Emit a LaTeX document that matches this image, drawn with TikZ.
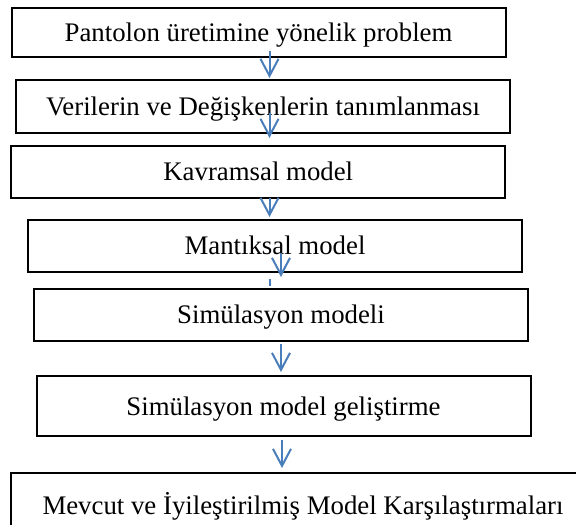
\documentclass[tikz,border=0pt]{standalone}
\usepackage{fontspec}
\setmainfont{Liberation Serif}
\usetikzlibrary{arrows.meta}
\definecolor{arrblue}{RGB}{74,126,187}
\begin{document}
\begin{tikzpicture}[x=1pt,y=-1pt,
  box/.style={draw=black, line width=2pt, rectangle, inner sep=0pt,
    minimum width=494pt, font=\fontsize{26.8}{32}\selectfont,
    text height=20pt, text depth=2pt},
  arr/.style={draw=arrblue, line width=2pt,
    -{Straight Barb[length=17pt,width=18pt]}},
  stub/.style={draw=arrblue, line width=2pt}]
\path[use as bounding box, clip] (0,0) rectangle (576,525);
\node[box, minimum height=49.5pt] (b1) at (258.5,32.25) {Pantolon üretimine yönelik problem};
\node[box, minimum height=53pt] (b2) at (263,106.5) {Verilerin ve Değişkenlerin tanımlanması};
\node[box, minimum height=51.5pt] (b3) at (258.25,171.75) {Kavramsal model};
\node[box, minimum height=51.5pt] (b4) at (275,245.75) {Mantıksal model};
\node[box, minimum height=51.5pt] (b5) at (281,314.75) {Simülasyon modeli};
\node[box, minimum height=60pt] (b6) at (283.5,406) {Simülasyon model geliştirme};
\node[box, minimum height=64pt, minimum width=585pt] (b7) at (303,505) {Mevcut ve İyileştirilmiş Model Karşılaştırmaları};
\draw[arr] ([xshift=11pt,yshift=7pt]b1.south) -- ([xshift=6.5pt,yshift=1pt]b2.north);
\draw[arr] ([xshift=6.5pt,yshift=21pt]b2.south) -- ([xshift=11.25pt,yshift=7pt]b3.north);
\draw[arr] ([xshift=11.25pt,yshift=0.5pt]b3.south) -- ([xshift=-5.5pt,yshift=2pt]b4.north);
\draw[arr] ([xshift=6pt,yshift=19.5pt]b4.south) -- ([xshift=0pt,yshift=11pt]b5.north);
\draw[stub] ([xshift=-11pt,yshift=9pt]b5.north) -- ([xshift=-11pt,yshift=2pt]b5.north);
\draw[arr] ([xshift=0pt,yshift=-2.5pt]b5.south) -- ([xshift=-2.5pt,yshift=3pt]b6.north);
\draw[arr] ([xshift=-1.5pt,yshift=-3pt]b6.south) -- ([xshift=-21pt,yshift=4pt]b7.north);
\end{tikzpicture}
\end{document}
